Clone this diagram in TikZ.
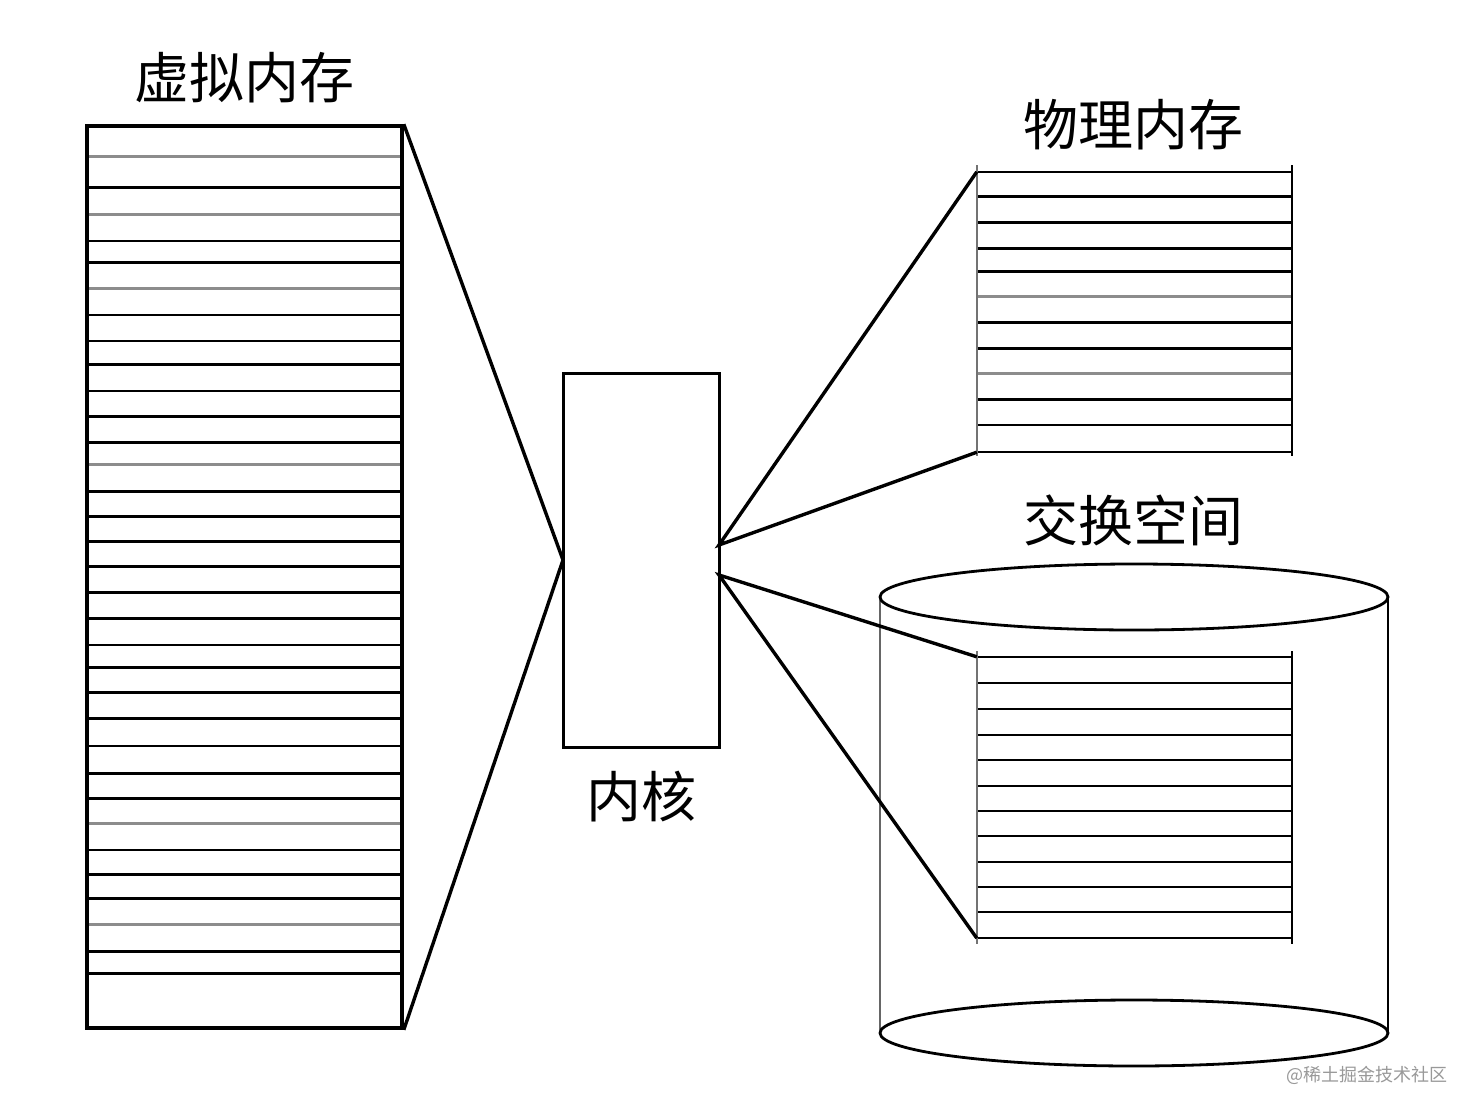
\documentclass[tikz,border=0pt]{standalone}
\usepackage{fontspec}
\newfontfamily\cjk{Noto Sans CJK SC}
\begin{document}
\begin{tikzpicture}[x=1pt,y=-1pt,
  box/.style={draw=black,line width=3.6pt,inner sep=0pt,rectangle},
  slot/.style={draw=black,line width=2.6pt},
  slotg/.style={draw=black!45,line width=3pt},
  wire/.style={draw=black,line width=3.4pt,line join=miter},
  side/.style={draw=black,line width=2.8pt},
  lbl/.style={font=\cjk\fontsize{55}{62}\selectfont,inner sep=0pt},
  wm/.style={font=\cjk\fontsize{18}{20}\selectfont,text=black!40,inner sep=0pt}]
\useasboundingbox (0,0) rectangle (1476,1114);
\fill[white] (0,0) rectangle (1476,1114);

% virtual memory block
\node[box,minimum width=315pt,minimum height=902pt] (vm) at (244.5,577) {};
\foreach \yy in {187.7,241,262.7,315,341,364.3,391,416.7,442.7,491.7,516.7,541.7,566.7,592.3,618.3,645,667.7,692.7,718.3,746,773.3,798.3,850,874.3,898.3,951.7,973.3}
  \draw[slot] (89,\yy) -- (400,\yy);
\foreach \yy in {156.7,214.3,288.3,464.3,823.3,924.3}
  \draw[slotg] (89,\yy) -- (400,\yy);
\node[lbl] (vmlabel) at (244,78) {虚拟内存};

% kernel
\node[draw=black,line width=3pt,inner sep=0pt,minimum width=156pt,minimum height=374pt] (kern) at (641,560) {};
\node[lbl] (kernlabel) at (641,797) {内核};
\coordinate (kL) at (563,560);
\coordinate (kR1) at (719,545);
\coordinate (kR2) at (719,575);

% physical memory block
\node[inner sep=0pt,minimum width=315pt,minimum height=280pt] (phys) at (1134.5,312) {};
\foreach \yy in {172,196.7,222.7,248.3,271.7,322.7,348.3,399.3,425,452}
  \draw[slot] (977,\yy) -- (1292,\yy);
\foreach \yy in {296.7,373.3}
  \draw[slotg] (977,\yy) -- (1292,\yy);
\draw[side,draw=black!55] (977,165) -- (977,456);
\draw[side] (1292,165) -- (1292,456);
\node[lbl] (physlabel) at (1133,125) {物理内存};

% swap space cylinder
\node[lbl] (swaplabel) at (1133,520) {交换空间};
\draw[side,draw=black!60] (880,597) -- (880,1033);
\draw[side] (1388,597) -- (1388,1033);
\draw[side] (1134,597) ellipse [x radius=254, y radius=33];
\draw[side] (1134,1033) ellipse [x radius=254, y radius=33];

\node[inner sep=0pt,minimum width=315pt,minimum height=281pt] (swap) at (1134.5,797.5) {};
\foreach \yy in {657,683,709,735,760,786,811,836,862,887,912,938}
  \draw[slot] (977,\yy) -- (1292,\yy);
\draw[side,draw=black!55] (977,651) -- (977,944);
\draw[side] (1292,651) -- (1292,944);

% connectors
\draw[wire] (vm.north east) -- (kL) -- (vm.south east);
\draw[wire] (phys.north west) -- (kR1) -- (phys.south west);
\draw[wire] (swap.north west) -- (kR2) -- (swap.south west);

% watermark
\node[wm] (wmark) at (1367,1075) {@稀土掘金技术社区};
\end{tikzpicture}
\end{document}
